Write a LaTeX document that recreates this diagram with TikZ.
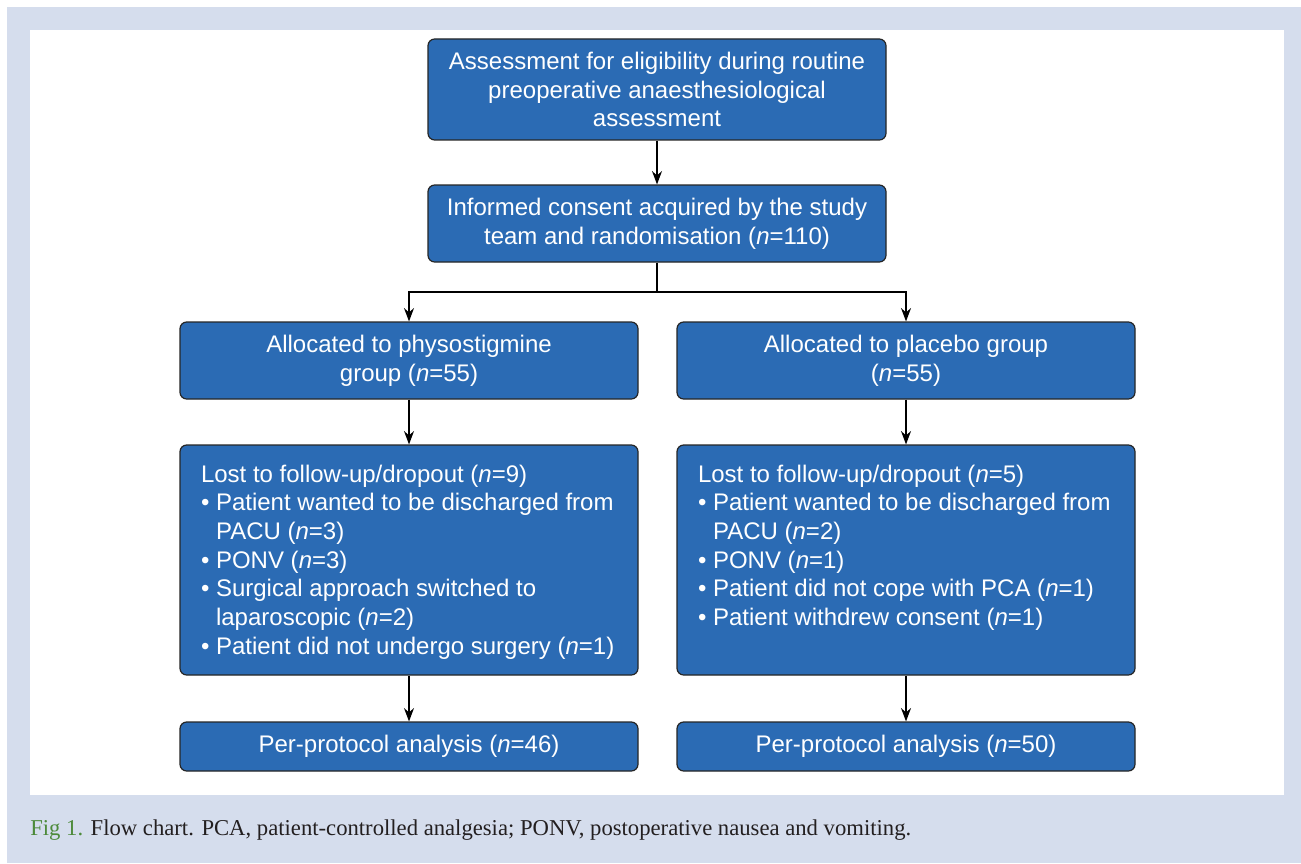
\documentclass[tikz,border=0pt]{standalone}
\usepackage{fontspec}
\setmainfont{Liberation Sans}
\newfontfamily\capfont{Liberation Serif}
\usetikzlibrary{arrows.meta}

\definecolor{panelblue}{RGB}{213,221,237}
\definecolor{boxblue}{RGB}{43,107,180}
\definecolor{capgreen}{RGB}{76,138,58}
\definecolor{captext}{RGB}{35,31,32}

\newcommand{\nn}{\textit{n}}
\newcommand{\bitem}[1]{\par\setbox0\hbox{\textbullet\ }\hangindent=\wd0 \hangafter=1 \noindent\box0 #1}

\tikzset{
  flowbox/.style={draw=black!85, line width=0.9pt, fill=boxblue, rounded corners=5pt,
    text=white, align=center, inner sep=0pt, minimum width=343.5pt,
    font=\fontsize{18}{21.5}\selectfont},
  flowarrow/.style={line width=0.9pt, -{Stealth[length=10pt,width=7.5pt]}},
}

\begin{document}
\begin{tikzpicture}[x=0.75pt,y=0.75pt,yscale=-1,xscale=1]
\useasboundingbox (0,0) rectangle (1301,863);
%Shape: Rectangle [background]
\fill[white] (0,0) rectangle (1301,863);
\fill[panelblue] (7,7) rectangle (1301,863);
\fill[white] (30,30) rectangle (1284,795);
% Text Node
\node[flowbox, minimum height=75.75pt] (assess) at (657,89.5) {Assessment for eligibility during routine\\preoperative anaesthesiological\\assessment};
% Text Node
\node[flowbox, minimum height=57.75pt] (consent) at (657,223.5) {Informed consent acquired by the study\\team and randomisation (\nn=110)};
% Text Node
\node[flowbox, minimum height=57.75pt] (physo) at (409,360.5) {Allocated to physostigmine\\group (\nn=55)};
% Text Node
\node[flowbox, minimum height=57.75pt] (placebo) at (906,360.5) {Allocated to placebo group\\(\nn=55)};
% Text Node
\node[flowbox, minimum height=172.5pt] (lostL) at (409,560) {\begin{minipage}[t][147pt][t]{312pt}\raggedright
\strut Lost to follow-up/dropout (\nn=9)
\bitem{Patient wanted to be discharged from\newline PACU (\nn=3)}
\bitem{PONV (\nn=3)}
\bitem{Surgical approach switched to\newline laparoscopic (\nn=2)}
\bitem{Patient did not undergo surgery (\nn=1)}
\end{minipage}};
% Text Node
\node[flowbox, minimum height=172.5pt] (lostR) at (906,560) {\begin{minipage}[t][147pt][t]{312pt}\raggedright
\strut Lost to follow-up/dropout (\nn=5)
\bitem{Patient wanted to be discharged from\newline PACU (\nn=2)}
\bitem{PONV (\nn=1)}
\bitem{Patient did not cope with PCA (\nn=1)}
\bitem{Patient withdrew consent (\nn=1)}
\end{minipage}};
% Text Node
\node[flowbox, minimum height=36.75pt] (ppL) at (409,746.5) {Per-protocol analysis (\nn=46)};
% Text Node
\node[flowbox, minimum height=36.75pt] (ppR) at (906,746.5) {Per-protocol analysis (\nn=50)};
%Straight Lines
\coordinate (split) at (657,292);
\draw[flowarrow] (assess) -- (consent);
\draw[line width=0.9pt] (consent.south) -- (split);
\draw[flowarrow] (split) -| (physo.north);
\draw[flowarrow] (split) -| (placebo.north);
\draw[flowarrow] (physo) -- (lostL);
\draw[flowarrow] (placebo) -- (lostR);
\draw[flowarrow] (lostL) -- (ppL);
\draw[flowarrow] (lostR) -- (ppR);
% Text Node
\node[anchor=base west, inner sep=0pt, text=captext, font=\capfont\fontsize{17}{20}\selectfont] (caption) at (30,835) {\textcolor{capgreen}{Fig 1.} Flow chart. PCA, patient-controlled analgesia; PONV, postoperative nausea and vomiting.};
\end{tikzpicture}
\end{document}
